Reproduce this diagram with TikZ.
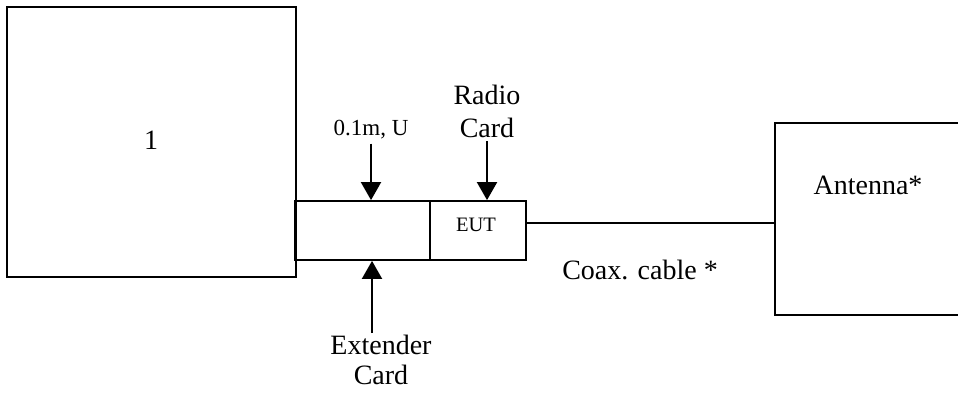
\documentclass[tikz,border=0pt]{standalone}
\usepackage{fontspec}
\setmainfont{Liberation Serif}
\usetikzlibrary{arrows.meta,calc}
\tikzset{
  box/.style={draw, line width=1.8pt, inner sep=0pt, minimum width=#1},
  big/.style={font=\fontsize{28}{33}\selectfont, inner sep=1pt, align=center},
  mid/.style={font=\fontsize{23}{27}\selectfont, inner sep=1pt},
  small/.style={font=\fontsize{20.5}{24}\selectfont, inner sep=1pt},
  arr/.style={line width=2pt, -{Triangle[width=20pt,length=18pt]}},
  wire/.style={line width=1.8pt}
}
\begin{document}
\begin{tikzpicture}[x=1pt,y=-1pt]
\useasboundingbox (0,0) rectangle (958,393);
\begin{scope}
\clip (0,0) rectangle (958,393);
\node[box=289pt, minimum height=270pt] (host) at (151.5,142) {};
\node[box=135pt, minimum height=59pt] (ext) at (362.5,230.5) {};
\node[box=96pt, minimum height=59pt] (eut) at (478,230.5) {};
\node[box=200pt, minimum height=192pt] (ant) at (875,219) {};
\end{scope}
\node[big] (one) at (151,140) {1};
\node[small] (euttxt) at (476,225) {EUT};
\node[big] (anttxt) at (868,185) {Antenna*};
\node[big] (coax) at (640,270) {Coax. cable *};
\node[mid] (u) at (371,130) {0.1m, U};
\node[big] (radio) at (487,111.5) {Radio\\Card};
\node[big, font=\fontsize{28}{30}\selectfont, inner sep=0pt, anchor=north] (extc) at (381,334.5) {Extender\\Card};
\coordinate (e1) at (372,333);
\coordinate (c1) at ([yshift=7.5pt]eut.east);
\draw[wire] (c1) -- (c1 -| ant.west);
\draw[arr] ([yshift=-3pt]u.south) -- (u.south |- ext.north);
\draw[arr] ([yshift=-2pt]radio.south) -- (radio.south |- ext.north);
\draw[arr] (e1) -- (e1 |- ext.south);
\end{tikzpicture}
\end{document}
